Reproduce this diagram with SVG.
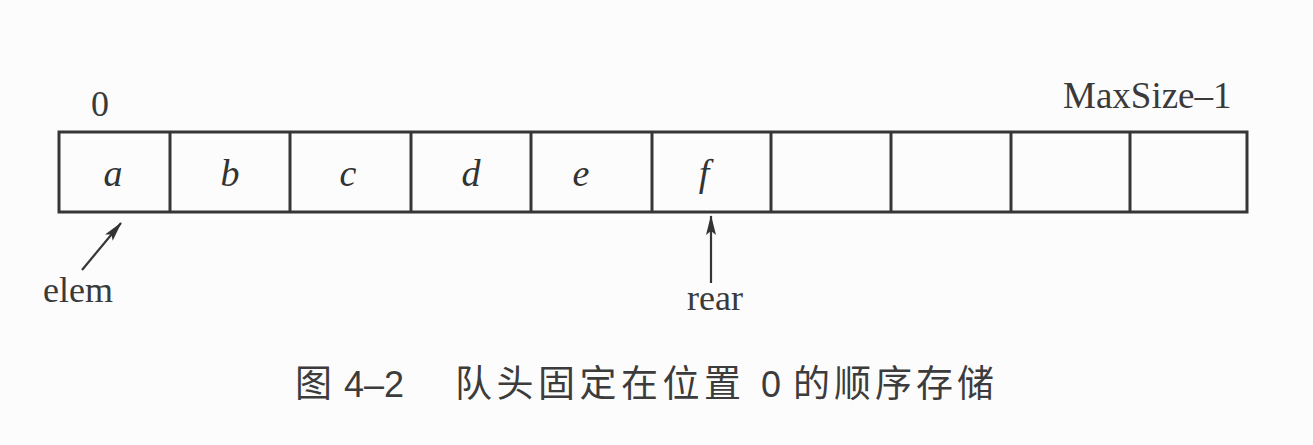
<svg xmlns="http://www.w3.org/2000/svg" width="1313" height="445" viewBox="0 0 1313 445">
  <style>
    .cell { fill: none; stroke: #363636; stroke-width: 3; }
    .lbl { font-family: "Liberation Serif", "Times New Roman", serif; font-size: 36px; fill: #3a3a3a; }
    .val { font-family: "Liberation Serif", "Times New Roman", serif; font-size: 38px; font-style: italic; fill: #333; text-anchor: middle; }
    .cap { font-family: "Noto Sans CJK SC", "Noto Sans", sans-serif; font-size: 37px; fill: #3c3c3c; font-weight: 400; }
    .capn { font-family: "Liberation Sans", "Noto Sans", sans-serif; font-size: 36px; fill: #3c3c3c; }
    .conn { stroke: #363636; stroke-width: 2.2; fill: none; }
  </style>
  <defs>
    <marker id="ah" viewBox="0 0 20 10" refX="19" refY="5" markerWidth="20" markerHeight="10" markerUnits="userSpaceOnUse" orient="auto">
      <path d="M0,0 L20,5 L0,10 L4,5 Z" fill="#333"/>
    </marker>
  </defs>
  <rect width="1313" height="445" fill="#fcfcfc"/>

  <g id="array">
    <rect class="cell" x="59" y="132" width="1188" height="80"/>
    <line class="cell" x1="170" y1="132" x2="170" y2="212"/>
    <line class="cell" x1="290" y1="132" x2="290" y2="212"/>
    <line class="cell" x1="411" y1="132" x2="411" y2="212"/>
    <line class="cell" x1="531" y1="132" x2="531" y2="212"/>
    <line class="cell" x1="652" y1="132" x2="652" y2="212"/>
    <line class="cell" x1="771" y1="132" x2="771" y2="212"/>
    <line class="cell" x1="891" y1="132" x2="891" y2="212"/>
    <line class="cell" x1="1011" y1="132" x2="1011" y2="212"/>
    <line class="cell" x1="1130" y1="132" x2="1130" y2="212"/>
  </g>

  <g id="values">
    <text class="val" x="113" y="186">a</text>
    <text class="val" x="230" y="186">b</text>
    <text class="val" x="348" y="186">c</text>
    <text class="val" x="471" y="186">d</text>
    <text class="val" x="581" y="186">e</text>
    <text class="val" x="704" y="186">f</text>
  </g>

  <g id="index-labels">
    <text class="lbl" x="100" y="116" text-anchor="middle">0</text>
    <text class="lbl" x="1063" y="108" style="font-size:37px">MaxSize–1</text>
  </g>

  <g id="elem">
    <text class="lbl" x="43" y="302">elem</text>
  </g>
  <g id="rear">
    <text class="lbl" x="715" y="310" text-anchor="middle">rear</text>
  </g>

  <g id="connectors">
    <line class="conn" x1="82" y1="270" x2="121" y2="223" marker-end="url(#ah)"/>
    <line class="conn" x1="711" y1="283" x2="711" y2="216" marker-end="url(#ah)"/>
  </g>

  <g id="caption">
    <text class="cap" x="295" y="397">图</text>
    <text class="capn" x="344" y="397">4–2</text>
    <text class="cap" x="455" y="397" letter-spacing="4.5">队头固定在位置</text>
    <text class="capn" x="761" y="397">0</text>
    <text class="cap" x="793" y="397" letter-spacing="4">的顺序存储</text>
  </g>
</svg>
